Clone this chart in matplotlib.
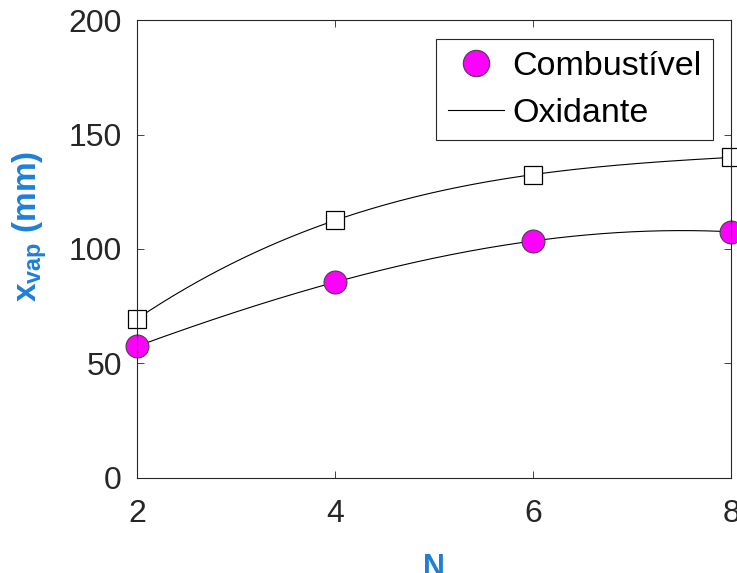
import matplotlib
matplotlib.use("Agg")
import matplotlib.pyplot as plt
import numpy as np

plt.rcParams['font.family'] = ['Liberation Sans', 'DejaVu Sans']
plt.rcParams['mathtext.fontset'] = 'custom'
plt.rcParams['mathtext.rm'] = 'Liberation Sans'
plt.rcParams['mathtext.bf'] = 'Liberation Sans:bold'

# dados
N = [2, 4, 6, 8]
combustivel = [57.5, 85.5, 103.5, 107.5]
oxidante = [69.5, 112.5, 132.5, 140.0]

blue = '#1f7fd8'

fig = plt.figure(figsize=(7.37, 5.73), dpi=100)
ax = fig.add_axes([0.186, 0.166, 0.806, 0.799])

# interpolacao cubica pelos 4 pontos (equivale ao spline do MATLAB)
xs = np.linspace(N[0], N[-1], 200)
pc = np.polyfit(N, combustivel, 3)
po = np.polyfit(N, oxidante, 3)

ax.plot(xs, np.polyval(pc, xs), color='black', lw=0.8)
ax.plot(xs, np.polyval(po, xs), color='black', lw=0.8, label='Oxidante')
ax.plot(N, oxidante, 's', ms=13, mfc='white', mec='black', mew=0.9,
        clip_on=False)
ax.plot(N, combustivel, 'o', ms=16.5, mfc='#ff00ff', mec='#444444', mew=0.8,
        label='Combustível', clip_on=False)

ax.set_xlim(2, 8)
ax.set_ylim(0, 200)
ax.set_xticks([2, 4, 6, 8])
ax.set_yticks([0, 50, 100, 150, 200])
ax.tick_params(direction='in', top=True, right=True, length=5, width=0.6,
               labelsize=23, colors='#262626')
ax.tick_params(axis='x', pad=15)
ax.tick_params(axis='y', pad=11)
for s in ax.spines.values():
    s.set_linewidth(0.8)
    s.set_color('#262626')

ax.set_xlabel('N', color=blue, fontsize=22, fontweight='bold')
ax.xaxis.set_label_coords(0.5, -0.165)
ax.set_ylabel(r'$\mathbf{x_{vap}}$ (mm)', color=blue, fontsize=24,
              fontweight='bold')
ax.yaxis.set_label_coords(-0.148, 0.55)

h, l = ax.get_legend_handles_labels()
order = [l.index('Combustível'), l.index('Oxidante')]
leg = ax.legend([h[i] for i in order], [l[i] for i in order], loc='upper right',
                bbox_to_anchor=(0.97, 0.958), fontsize=24.5, fancybox=False,
                edgecolor='#262626', framealpha=1, handlelength=1.65,
                handletextpad=0.23, borderpad=0.35, labelspacing=0.45,
                borderaxespad=0, markerscale=1.15)
leg.get_frame().set_linewidth(0.8)

fig.savefig('out.png', dpi=100)
